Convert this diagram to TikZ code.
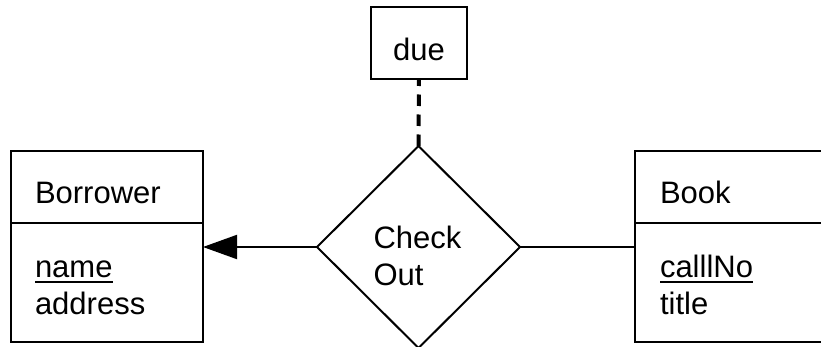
\documentclass[tikz,border=0pt]{standalone}
\usepackage{fontspec}
\setmainfont{Liberation Sans}
\usepackage{tikz}
\usetikzlibrary{arrows.meta, shapes.geometric, positioning, calc}

\begin{document}
\begin{tikzpicture}[
    x=1pt, y=-1pt,
    entity/.style={
        rectangle,
        minimum width=192pt,
        draw=black,
        line width=2pt,
        outer sep=0pt,
        inner sep=0pt
    },
    relationship/.style={
        diamond,
        minimum width=203pt,
        minimum height=202pt,
        draw=black,
        line width=2pt,
        outer sep=0pt,
        inner sep=0pt
    },
    attribute/.style={
        rectangle,
        minimum width=96pt,
        minimum height=72pt,
        draw=black,
        line width=2pt,
        outer sep=0pt,
        inner sep=0pt
    },
    txt/.style={
        font=\fontsize{31}{37}\selectfont,
        inner sep=0pt,
        outer sep=0pt
    },
    link/.style={
        line width=2pt
    },
    arrow/.style={
        -{Triangle[length=34pt, width=24pt]},
        line width=2pt
    },
    keyline/.style={
        line width=1.6pt
    }
]

% Frame
\useasboundingbox (0,0) rectangle (821,347);
\clip (0,0) rectangle (821,347);

% Relationship and its attribute
\node[relationship] (checkout) at (418.5,247) {};
\node[attribute] (due) at (419,43) {};

% Entities
\node[entity, minimum height=72pt] (borrower) at (107,187) {};
\node[entity, minimum height=119pt, below=0pt of borrower] (borrowerattrs) {};
\node[entity, minimum height=72pt] (book) at (731,187) {};
\node[entity, minimum height=119pt, below=0pt of book] (bookattrs) {};

% Labels
\node[txt, anchor=base] at ([yshift=-18pt]due.center) {due};
\node[txt, align=left, anchor=center] at ([xshift=-1pt, yshift=-9pt]checkout.center) {Check\\Out};
\node[txt, anchor=base west] (borrowerlabel) at ([xshift=24pt, yshift=-53pt]borrower.north west) {Borrower};
\node[txt, anchor=base west] (borrowername) at ([xshift=24pt, yshift=-54pt]borrowerattrs.north west) {name};
\node[txt, anchor=base west] (borroweraddress) at ([xshift=24pt, yshift=-91pt]borrowerattrs.north west) {address};
\node[txt, anchor=base west] (booklabel) at ([xshift=25pt, yshift=-53pt]book.north west) {Book};
\node[txt, anchor=base west] (bookcallno) at ([xshift=25pt, yshift=-54pt]bookattrs.north west) {calllNo};
\node[txt, anchor=base west] (booktitle) at ([xshift=25pt, yshift=-91pt]bookattrs.north west) {title};

% Keys
\draw[keyline] ([yshift=-5pt]borrowername.base west) -- ([yshift=-5pt]borrowername.base east);
\draw[keyline] ([yshift=-5pt]bookcallno.base west) -- ([yshift=-5pt]bookcallno.base east);

% Connectors
\draw[arrow] (checkout.west) -- (checkout.west -| borrowerattrs.east);
\draw[link] (checkout.east) -- (checkout.east -| bookattrs.west);
\draw[line width=4pt, dash pattern=on 11.5pt off 8.5pt] (checkout.north) -- (due.south);

\end{tikzpicture}
\end{document}
